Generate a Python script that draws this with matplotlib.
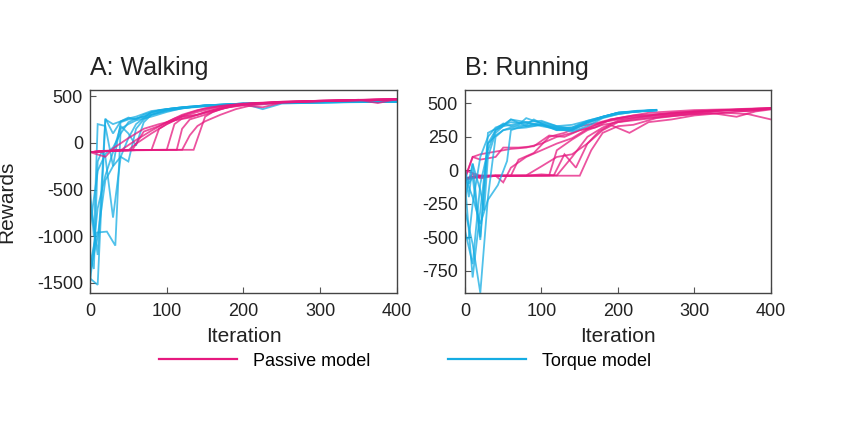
#!/usr/bin/env python3
import matplotlib
matplotlib.use("Agg")
import matplotlib.pyplot as plt
from matplotlib.lines import Line2D

plt.rcParams["font.family"] = ["Liberation Sans", "DejaVu Sans"]
plt.rcParams["axes.unicode_minus"] = False

PINK = "#e6197f"
BLUE = "#15ace3"

# ---- A: Walking ----
walk_torque_iter = [
    [0, 10, 20, 30, 40, 50, 60, 80, 100, 120, 150, 200, 250, 300, 350, 400],
    [0, 5, 10, 20, 30, 40, 50, 60, 70, 80, 100, 120, 150, 200, 250, 300, 400],
    [0, 9, 22, 33, 40, 50, 60, 70, 80, 100, 120, 150, 200, 250, 300, 350, 400],
    [0, 5, 10, 15, 20, 30, 40, 50, 60, 80, 100, 120, 150, 200, 250, 300, 350, 400],
    [0, 10, 20, 30, 40, 50, 60, 70, 80, 100, 120, 150, 200, 250, 300, 350, 400],
    [0, 10, 20, 30, 40, 50, 60, 70, 80, 100, 130, 150, 200, 225, 250, 300, 350, 400],
    [0, 10, 20, 30, 40, 50, 60, 70, 90, 110, 130, 160, 200, 250, 300, 350, 400],
    [0, 10, 20, 30, 40, 50, 60, 70, 80, 100, 120, 150, 200, 250, 300, 350, 400],
]
walk_torque_reward = [
    [-1450, -1520, 250, 200, 230, 260, 280, 340, 360, 380, 400, 420, 430, 435, 440, 440],
    [-500, -1000, 200, 180, -250, 220, 250, 260, 280, 300, 350, 370, 390, 410, 425, 430, 445],
    [-1300, -960, -950, -1100, 150, 200, 240, 260, 280, 330, 370, 400, 420, 430, 435, 440, 442],
    [-1200, -1350, -200, -100, -150, -800, -150, 50, 200, 330, 360, 380, 400, 420, 430, 430, 440, 438],
    [-900, -300, -120, -50, 100, 220, 260, 280, 320, 360, 380, 400, 415, 430, 440, 440, 445],
    [-1400, -1000, -400, -250, -150, -200, 150, 250, 300, 340, 380, 400, 420, 360, 420, 430, 435, 440],
    [-600, -1200, 260, 100, 230, 270, 250, 300, 350, 370, 380, 400, 420, 425, 435, 440, 442],
    [-1500, -700, -350, -100, 180, 100, -30, 220, 300, 350, 375, 395, 415, 430, 432, 438, 440],
]
walk_passive_iter = [
    [0, 20, 40, 60, 80, 100, 120, 140, 160, 180, 200, 250, 300, 350, 400],
    [0, 20, 40, 55, 70, 90, 110, 130, 150, 170, 200, 250, 300, 350, 375, 400],
    [0, 20, 40, 60, 80, 90, 100, 120, 140, 160, 180, 200, 250, 300, 350, 400],
    [0, 20, 40, 60, 80, 100, 113, 120, 130, 150, 170, 190, 210, 250, 300, 350, 400],
    [0, 20, 40, 60, 80, 100, 120, 135, 150, 160, 175, 190, 210, 250, 300, 350, 400],
    [0, 20, 30, 50, 70, 90, 110, 130, 150, 170, 190, 210, 250, 300, 350, 400],
    [0, 20, 40, 60, 80, 100, 110, 120, 140, 160, 180, 200, 225, 250, 300, 350, 400],
    [0, 20, 40, 60, 80, 100, 120, 130, 140, 150, 170, 190, 210, 250, 300, 350, 400],
    [0, 20, 40, 50, 60, 80, 100, 120, 140, 160, 180, 200, 250, 300, 350, 400],
]
walk_passive_reward = [
    [-100, -90, -80, 30, 130, 220, 300, 350, 380, 400, 415, 435, 445, 455, 465],
    [-100, -85, -80, -78, 120, 180, 260, 320, 370, 395, 420, 440, 450, 460, 425, 468],
    [-100, -90, -82, -80, -78, 150, 200, 280, 300, 350, 390, 410, 435, 450, 458, 466],
    [-100, -88, -80, -78, -76, -75, -75, 150, 250, 300, 360, 400, 420, 438, 450, 458, 465],
    [-100, -88, -82, -78, -76, -76, -75, -75, 280, 330, 370, 395, 415, 435, 448, 455, 462],
    [-100, -150, -60, 50, 150, 200, 240, 270, 330, 370, 400, 420, 438, 450, 455, 470],
    [-100, -88, -80, -78, -76, -75, 200, 260, 300, 340, 380, 400, 380, 430, 445, 455, 468],
    [-100, -90, -82, -78, -76, -75, -75, 80, 180, 230, 300, 360, 400, 430, 445, 460, 470],
    [-100, -88, -82, -80, -10, 100, 200, 280, 330, 370, 395, 415, 435, 448, 458, 466],
]

# ---- B: Running ----
run_torque_iter = [
    [0, 5, 10, 20, 30, 40, 50, 60, 80, 100, 120, 140, 160, 180, 200, 225, 250],
    [0, 10, 20, 30, 40, 50, 60, 70, 80, 100, 120, 140, 160, 180, 200, 225, 250],
    [0, 10, 20, 30, 40, 50, 60, 80, 90, 100, 120, 140, 160, 180, 200, 225, 250],
    [0, 5, 10, 20, 30, 40, 50, 60, 70, 80, 100, 120, 140, 160, 180, 200, 225, 250],
    [0, 10, 20, 30, 43, 55, 60, 70, 80, 100, 120, 140, 160, 180, 200, 225, 250],
    [0, 10, 20, 30, 40, 50, 60, 80, 100, 120, 140, 160, 180, 200, 225, 250],
    [0, 10, 20, 25, 30, 40, 50, 60, 80, 100, 120, 140, 160, 180, 200, 225, 250],
    [0, 5, 10, 20, 30, 40, 50, 60, 80, 100, 120, 140, 160, 180, 200, 225, 250],
]
run_torque_reward = [
    [-500, -510, -250, 100, 250, 320, 340, 380, 360, 370, 330, 340, 370, 400, 430, 440, 450],
    [-100, -800, -300, 200, 300, 330, 340, 350, 360, 330, 310, 320, 360, 400, 425, 440, 448],
    [-300, -550, -915, -200, 250, 300, 320, 340, 380, 350, 320, 300, 350, 395, 430, 440, 450],
    [-20, -200, 50, -500, 280, 310, 350, 330, 340, 390, 350, 300, 310, 360, 400, 430, 445, 452],
    [-50, -200, -400, -220, -110, 70, 300, 320, 330, 340, 310, 290, 330, 390, 420, 440, 448],
    [-450, -700, -100, 150, 300, 340, 360, 350, 340, 320, 320, 370, 400, 430, 442, 450],
    [-200, 50, -150, -300, 100, 280, 330, 380, 330, 360, 330, 310, 360, 400, 430, 438, 447],
    [0, -100, -50, -520, 200, 260, 300, 310, 320, 340, 300, 300, 360, 395, 420, 440, 450],
]
run_passive_iter = [
    [0, 10, 20, 40, 60, 80, 100, 120, 140, 160, 180, 200, 230, 260, 300, 340, 370, 400],
    [0, 20, 40, 60, 80, 100, 110, 120, 140, 160, 180, 200, 220, 250, 280, 320, 360, 400],
    [0, 20, 40, 50, 60, 80, 100, 120, 140, 160, 180, 200, 220, 250, 280, 320, 360, 400],
    [0, 20, 40, 60, 80, 100, 116, 130, 145, 160, 175, 190, 215, 240, 270, 300, 340, 380, 400],
    [0, 20, 40, 60, 80, 100, 120, 140, 160, 180, 200, 230, 260, 300, 340, 370, 400],
    [0, 10, 20, 40, 60, 70, 90, 110, 130, 150, 170, 190, 215, 240, 270, 300, 340, 380, 400],
    [0, 20, 40, 60, 80, 100, 120, 140, 150, 165, 180, 200, 220, 250, 280, 320, 355, 380, 400],
    [0, 10, 20, 40, 60, 80, 100, 120, 140, 160, 180, 200, 220, 250, 280, 320, 360, 400],
    [0, 10, 20, 40, 50, 70, 90, 110, 130, 150, 170, 190, 210, 240, 270, 300, 340, 380, 400],
]
run_passive_reward = [
    [-60, 100, 120, 140, 160, 170, 200, 250, 280, 320, 360, 380, 400, 420, 440, 450, 440, 460],
    [-70, -50, -40, -40, -40, -38, -38, 150, 230, 300, 340, 360, 380, 400, 420, 440, 450, 462],
    [-60, -45, -40, -90, 20, 100, 150, 200, 240, 310, 360, 390, 410, 420, 430, 445, 455, 465],
    [-60, -45, -40, -40, -40, -40, -38, 120, 20, 200, 290, 340, 280, 360, 380, 410, 430, 450, 460],
    [-60, -40, -40, -40, -38, 30, 100, 120, 200, 300, 360, 380, 400, 420, 430, 420, 380],
    [-60, -50, -40, -40, -40, 80, 130, 250, 280, 330, 350, 380, 400, 410, 430, 440, 450, 455, 462],
    [0, -40, -40, -40, -40, -40, -40, -40, -40, 150, 280, 330, 340, 390, 410, 430, 400, 440, 455],
    [-80, -30, -60, -40, -40, -40, -30, -38, 100, 250, 320, 370, 390, 410, 420, 440, 455, 465],
    [-60, 100, 80, 100, 170, 170, 180, 260, 250, 300, 320, 380, 400, 430, 440, 450, 455, 462, 466],
]


def draw_runs(ax, iters, rewards, color):
    for x, y in zip(iters, rewards):
        ax.plot(x, y, color=color, lw=1.3, alpha=0.75, solid_joinstyle="miter")


def style_axes(ax, title):
    ax.set_xlim(0, 400)
    ax.set_xticks([0, 100, 200, 300, 400])
    ax.set_title(title, loc="left", fontsize=18, pad=11, color="#222222")
    ax.set_xlabel("Iteration", fontsize=15, labelpad=5, color="#222222")
    ax.tick_params(direction="in", length=4, width=0.8, labelsize=13,
                   colors="#555555", labelcolor="#222222", pad=5)
    ax.tick_params(axis="x", pad=7)
    for s in ax.spines.values():
        s.set_color("#444444")
        s.set_linewidth(1.0)


fig = plt.figure(figsize=(8.62, 4.43), dpi=100)
ax1 = fig.add_axes([90 / 862, 1 - 293 / 443, 307 / 862, 203 / 443])
ax2 = fig.add_axes([465 / 862, 1 - 293 / 443, 306 / 862, 203 / 443])

draw_runs(ax1, walk_torque_iter, walk_torque_reward, BLUE)
draw_runs(ax1, walk_passive_iter, walk_passive_reward, PINK)
ax1.set_ylim(-1607, 565)
ax1.set_yticks([500, 0, -500, -1000, -1500])
style_axes(ax1, "A: Walking")
ax1.set_ylabel("Rewards", fontsize=15, color="#222222")
ax1.yaxis.set_label_coords(-0.24, 0.45)

draw_runs(ax2, run_passive_iter, run_passive_reward, PINK)
draw_runs(ax2, run_torque_iter, run_torque_reward, BLUE)
ax2.set_ylim(-916, 600)
ax2.set_yticks([500, 250, 0, -250, -500, -750])
style_axes(ax2, "B: Running")

handles = [Line2D([], [], color=PINK, lw=1.6), Line2D([], [], color=BLUE, lw=1.6)]
fig.legend(handles, ["Passive model", "Torque model"], loc="center",
           bbox_to_anchor=(405 / 862, 1 - 361 / 443), ncol=2, frameon=False,
           fontsize=13, handlelength=4.3, handletextpad=0.9, columnspacing=4.3)

fig.savefig("out.png", dpi=100)
